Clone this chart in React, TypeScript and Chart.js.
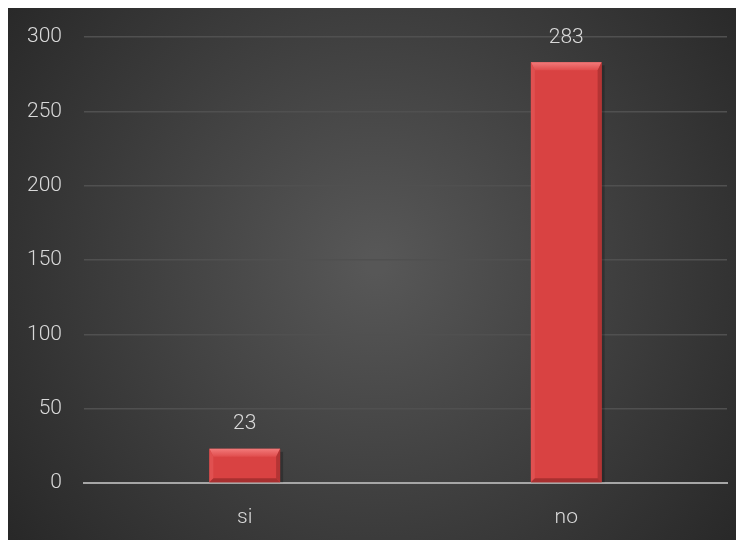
import React, { useEffect, useRef } from "react";
import { Chart, registerables } from "chart.js";

Chart.register(...registerables);

const categories = ["si", "no"];
const values = [23, 283];
const yTicks = [0, 50, 100, 150, 200, 250, 300];

const W = 736;
const H = 532;
const FONT = { family: "Roboto", size: 21, weight: "300" as any };

const bgPlugin = {
  id: "bgPlugin",
  beforeDraw(chart: any) {
    const { ctx, width, height } = chart;
    ctx.save();
    const g = ctx.createRadialGradient(width * 0.5, height * 0.48, 10, width * 0.5, height * 0.48, width * 0.62);
    g.addColorStop(0, "#575757");
    g.addColorStop(1, "#282828");
    ctx.fillStyle = g;
    ctx.fillRect(0, 0, width, height);
    ctx.restore();
  },
};

const bevelPlugin = {
  id: "bevelPlugin",
  afterDatasetsDraw(chart: any) {
    const { ctx } = chart;
    const meta = chart.getDatasetMeta(0);
    ctx.save();
    meta.data.forEach((bar: any, i: number) => {
      const p = bar.getProps(["x", "y", "base", "width"], true);
      const l = p.x - p.width / 2;
      const r = p.x + p.width / 2;
      const t = p.y;
      const b = p.base;
      const dt = Math.min(8, (b - t) / 3);
      const ds = 4;
      const poly = (pts: number[][], color: any) => {
        ctx.beginPath();
        ctx.moveTo(pts[0][0], pts[0][1]);
        for (let k = 1; k < pts.length; k++) ctx.lineTo(pts[k][0], pts[k][1]);
        ctx.closePath();
        ctx.fillStyle = color;
        ctx.fill();
      };
      // shadow
      ctx.fillStyle = "rgba(0,0,0,0.22)";
      ctx.fillRect(r, t + 3, 3, b - t - 3);
      const tg = ctx.createLinearGradient(0, t, 0, t + dt);
      tg.addColorStop(0, "#f27a7a");
      tg.addColorStop(1, "#e04c4c");
      poly([[l, t], [r, t], [r - ds, t + dt], [l + ds, t + dt]], tg);
      poly([[l, t], [l + ds, t + dt], [l + ds, b - ds], [l, b]], "#e05050");
      poly([[r, t], [r - ds, t + dt], [r - ds, b - ds], [r, b]], "#b43434");
      poly([[l, b], [l + ds, b - ds], [r - ds, b - ds], [r, b]], "#a83030");
      // value label
      ctx.fillStyle = "#d9d9d9";
      ctx.font = "300 21px Roboto";
      ctx.textAlign = "center";
      ctx.textBaseline = "middle";
      ctx.fillText(String(values[i]), p.x, t - 25);
    });
    ctx.restore();
  },
};

export default function App() {
  const ref = useRef<HTMLCanvasElement | null>(null);
  useEffect(() => {
    document.documentElement.style.overflow = "hidden";
    const canvas = ref.current!;
    const chart = new Chart(canvas, {
      type: "bar",
      data: {
        labels: categories,
        datasets: [
          {
            data: values,
            backgroundColor: "#d94242",
            borderWidth: 0,
            barPercentage: 0.22,
            categoryPercentage: 1,
          },
        ],
      },
      options: {
        responsive: false,
        animation: false,
        layout: { padding: { left: 0, right: 17, top: 29, bottom: 0 } },
        plugins: { legend: { display: false }, tooltip: { enabled: false } },
        scales: {
          x: {
            grid: { display: false },
            border: { display: true, color: "#a6a6a6", width: 2 },
            ticks: { color: "#d9d9d9", font: FONT, padding: 14 },
            afterFit(scale: any) {
              scale.height = 57;
              scale.paddingLeft = 0;
              scale.paddingRight = 0;
            },
          },
          y: {
            min: 0,
            max: 300,
            afterBuildTicks(scale: any) {
              scale.ticks = yTicks.map((v) => ({ value: v }));
            },
            grid: {
              color: (c: any) => (c.tick && c.tick.value === 0 ? "rgba(0,0,0,0)" : "#505050"),
              lineWidth: 1.5,
              drawTicks: false,
            },
            border: { display: false },
            ticks: { color: "#d9d9d9", font: FONT, padding: 22 },
            afterFit(scale: any) {
              scale.width = 76;
              scale.paddingTop = 0;
              scale.paddingBottom = 0;
            },
          },
        },
      },
      plugins: [bgPlugin, bevelPlugin],
    });
    return () => chart.destroy();
  }, []);
  return (
    <div style={{ width: W, height: H }}>
      <canvas ref={ref} width={W} height={H} style={{ display: "block" }} />
    </div>
  );
}
